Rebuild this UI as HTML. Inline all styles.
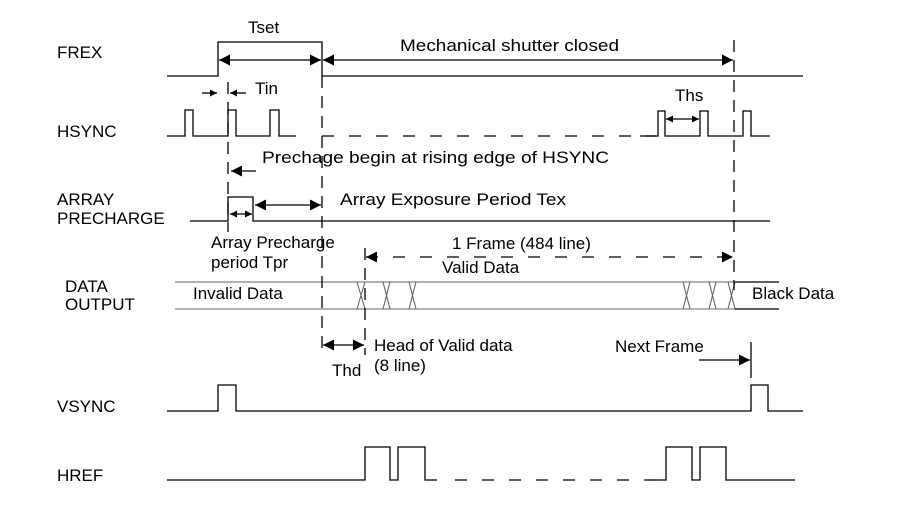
<!DOCTYPE html>
<html><head><style>html,body{margin:0;padding:0;background:#fff}svg{display:block}text{font-family:"Liberation Sans",Arial,sans-serif;font-size:17px;fill:#000}</style></head><body>
<svg width="900" height="525" viewBox="0 0 900 525" xmlns="http://www.w3.org/2000/svg">
<defs>
<marker id="a" viewBox="0 0 10 10" refX="10" refY="5" markerWidth="22" markerHeight="11" markerUnits="userSpaceOnUse" orient="auto-start-reverse"><path d="M0,0L10,5L0,10z" fill="#000"/></marker>
<marker id="s" viewBox="0 0 10 10" refX="10" refY="5" markerWidth="11" markerHeight="7" markerUnits="userSpaceOnUse" orient="auto-start-reverse"><path d="M0,0L10,5L0,10z" fill="#000"/></marker>
</defs>
<g stroke="#000" stroke-width="1.3" fill="none">
<path d="M167,76H218V42H322V76H803"/>
<line x1="219" y1="60" x2="321" y2="60" marker-start="url(#a)" marker-end="url(#a)"/>
<line x1="323" y1="60" x2="733" y2="60" marker-start="url(#a)" marker-end="url(#a)"/>
<line x1="202" y1="93" x2="217" y2="93" marker-end="url(#s)"/>
<line x1="246" y1="93" x2="230" y2="93" marker-end="url(#s)"/>
<path d="M167,136H185V110H193V136H228V110H236V136H270V110H279V136H296"/>
<line x1="322" y1="136" x2="656" y2="136" stroke-dasharray="12,15"/>
<path d="M640,136H658V111H665V136H700V111H708V136H743V111H751V136H770"/>
<line x1="666" y1="119" x2="699" y2="119" marker-start="url(#s)" marker-end="url(#s)"/>
<line x1="256" y1="171" x2="231" y2="171" marker-end="url(#a)"/>
<path d="M190,221H228V197H253V221H770"/>
<line x1="230" y1="214" x2="252" y2="214" marker-start="url(#s)" marker-end="url(#s)"/>
<line x1="255" y1="205" x2="321" y2="205" marker-start="url(#a)" marker-end="url(#a)"/>
<g stroke="#666" stroke-width="1.1">
<path d="M175,282H735M175,309H735"/>
<path d="M357,282L365,309M357,309L365,282M383,282L390,309M383,309L390,282M409,282L416,309M409,309L416,282"/>
<path d="M683,282L690,309M683,309L690,282M709,282L716,309M709,309L716,282M728,282L735,309M728,309L735,282"/>
</g>
<path d="M735,282H779M735,309H779"/>
<line x1="366" y1="257" x2="733" y2="257" stroke-dasharray="12,15" marker-start="url(#a)" marker-end="url(#a)"/>
<line x1="228" y1="82" x2="228" y2="232" stroke-dasharray="12,8"/>
<line x1="322" y1="76" x2="322" y2="355" stroke-dasharray="12,8"/>
<line x1="365" y1="248" x2="365" y2="355" stroke-dasharray="12,8"/>
<line x1="734" y1="40" x2="734" y2="290" stroke-dasharray="12,8"/>
<line x1="323" y1="345" x2="364" y2="345" marker-start="url(#a)" marker-end="url(#a)"/>
<line x1="699" y1="360" x2="750" y2="360" marker-end="url(#a)"/>
<line x1="751" y1="342" x2="751" y2="378"/>
<path d="M167,411H218V385H236V411H751V385H768V411H803"/>
<path d="M167,480H365V447H390V480H398V447H425V480H437"/>
<line x1="455" y1="480" x2="656" y2="480" stroke-dasharray="12,15"/>
<path d="M655,480H666V447H692V480H700V447H726V480H795"/>
</g>
<text x="57" y="58">FREX</text>
<text x="57" y="137">HSYNC</text>
<text x="57" y="205">ARRAY</text>
<text x="57" y="224">PRECHARGE</text>
<text x="65" y="292">DATA</text>
<text x="65" y="310">OUTPUT</text>
<text x="57" y="412">VSYNC</text>
<text x="57" y="481">HREF</text>
<text x="248" y="33">Tset</text>
<text x="400" y="51" textLength="219" lengthAdjust="spacingAndGlyphs">Mechanical shutter closed</text>
<text x="255" y="94">Tin</text>
<text x="675" y="101">Ths</text>
<text x="262" y="163" textLength="347" lengthAdjust="spacingAndGlyphs">Prechage begin at rising edge of HSYNC</text>
<text x="340" y="205" textLength="226" lengthAdjust="spacingAndGlyphs">Array Exposure Period Tex</text>
<text x="211" y="248">Array Precharge</text>
<text x="211" y="268">period Tpr</text>
<text x="452" y="249">1 Frame (484 line)</text>
<text x="442" y="273">Valid Data</text>
<text x="193" y="299">Invalid Data</text>
<text x="752" y="299">Black Data</text>
<text x="374" y="351">Head of Valid data</text>
<text x="374" y="371">(8 line)</text>
<text x="332" y="376">Thd</text>
<text x="615" y="352">Next Frame</text>
</svg>
</body></html>
